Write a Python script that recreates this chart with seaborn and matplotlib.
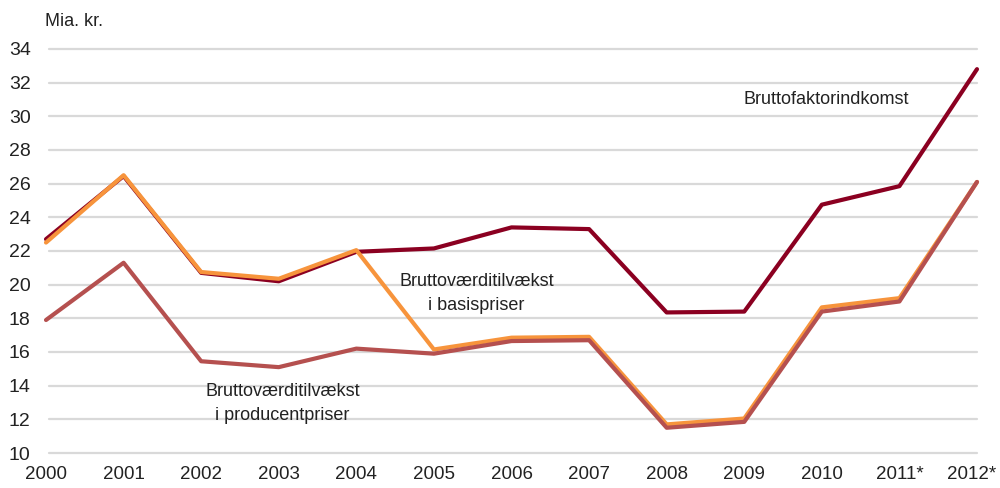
import matplotlib
matplotlib.use("Agg")
import matplotlib.pyplot as plt
import matplotlib.transforms as mtransforms
import seaborn as sns
import pandas as pd

years = ["2000", "2001", "2002", "2003", "2004", "2005", "2006", "2007",
         "2008", "2009", "2010", "2011*", "2012*"]
faktor = [22.7, 26.45, 20.7, 20.2, 21.95, 22.15, 23.4, 23.3, 18.35, 18.4, 24.75, 25.85, 32.8]
basis = [22.5, 26.5, 20.75, 20.35, 22.05, 16.15, 16.85, 16.9, 11.7, 12.05, 18.65, 19.2, 26.1]
producent = [17.9, 21.3, 15.45, 15.1, 16.2, 15.9, 16.65, 16.7, 11.5, 11.85, 18.4, 19.0, 26.1]

series_names = ["Bruttofaktorindkomst", "Bruttoværditilvækst i basispriser",
                "Bruttoværditilvækst i producentpriser"]
colors = ["#8B0021", "#F7943C", "#B5504F"]

rows = []
for name, vals in zip(series_names, [faktor, basis, producent]):
    for i, v in enumerate(vals):
        rows.append({"x": i, "value": v, "series": name})
df = pd.DataFrame(rows)

sns.set_theme(style="white")
plt.rcParams['font.family'] = ['Liberation Sans Narrow', 'Liberation Sans', 'DejaVu Sans']

fig = plt.figure(figsize=(10, 4.88), dpi=100)
ax = fig.add_axes([0.046, 0.0717, 0.931, 0.828])

for y in range(10, 35, 2):
    ax.axhline(y, xmin=0.003, color="#d9d9d9", lw=1.6, zorder=0)

sns.lineplot(data=df, x="x", y="value", hue="series", hue_order=series_names,
             palette=colors, linewidth=3.0, ax=ax, legend=False,
             solid_capstyle="round", solid_joinstyle="round")

ax.set_xlim(0, 12)
ax.set_ylim(10, 34)
ax.set_yticks(range(10, 35, 2))
ax.set_xticks(range(len(years)))
ax.set_xticklabels(years)
ax.tick_params(axis="y", labelsize=14, colors="#222222", length=0, pad=11)
ax.tick_params(axis="x", labelsize=13.5, colors="#222222", length=0, pad=9)
ax.set_xlabel("")
ax.set_ylabel("")
for s in ax.spines.values():
    s.set_visible(False)
for ln in ax.get_lines():
    ln.set_clip_on(False)

last = ax.get_xticklabels()[-1]
last.set_transform(last.get_transform() + mtransforms.ScaledTranslation(-5 / 100, 0, fig.dpi_scale_trans))

fig.text(0.045, 0.955, "Mia. kr.", fontsize=13, color="#222222", ha="left", va="center")

ax.text(10.06, 31.0, "Bruttofaktorindkomst", fontsize=13, ha="center", va="center", color="#222222")
ax.text(5.55, 19.45, "Bruttoværditilvækst\ni basispriser", fontsize=13, ha="center", va="center",
        color="#222222", linespacing=1.55)
ax.text(3.05, 12.95, "Bruttoværditilvækst\ni producentpriser", fontsize=13, ha="center", va="center",
        color="#222222", linespacing=1.55)

fig.savefig("out.png", dpi=100)
